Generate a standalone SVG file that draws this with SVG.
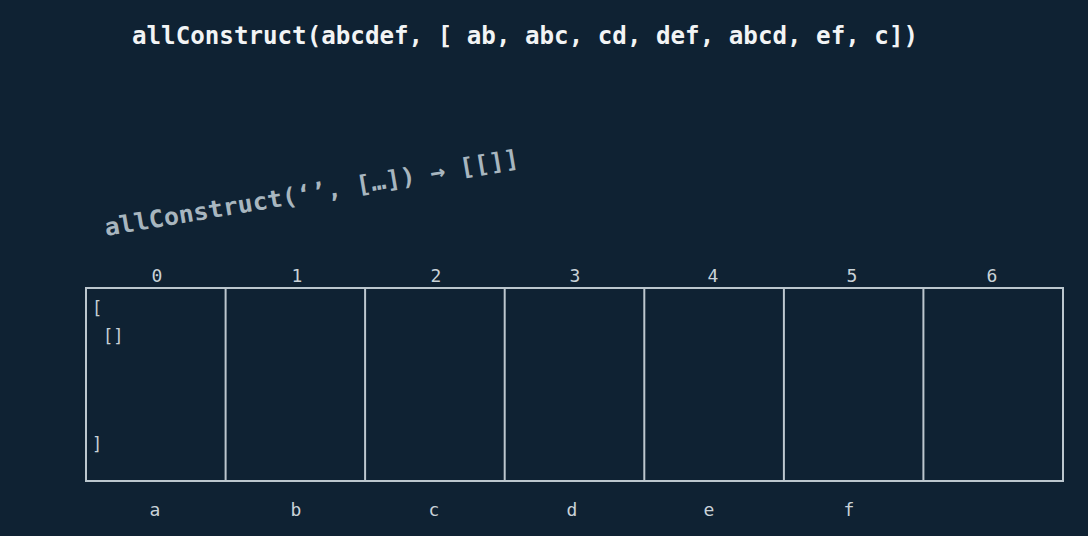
<svg xmlns="http://www.w3.org/2000/svg" width="1088" height="536" viewBox="0 0 1088 536">
<style>
.title{font-family:"DejaVu Sans Mono","Liberation Mono",monospace;font-weight:bold;font-size:24px;fill:#f2f4f5}
.call{font-family:"DejaVu Sans Mono","Liberation Mono",monospace;font-weight:bold;font-size:24px;fill:#a8b6bf}
.lbl{font-family:"DejaVu Sans Mono","Liberation Mono",monospace;font-size:18px;fill:#c9d2d8;text-anchor:middle}
.cell{font-family:"DejaVu Sans Mono","Liberation Mono",monospace;font-size:17px;fill:#c9d2d8}
.grid{fill:none;stroke:#bcc7ce;stroke-width:2}
</style>
<rect width="1088" height="536" fill="#0f2233"/>
<text class="title" x="132" y="44" textLength="786" lengthAdjust="spacingAndGlyphs">allConstruct(abcdef, [ ab, abc, cd, def, abcd, ef, c])</text>
<text class="call" x="106" y="236" transform="rotate(-9.6 106 236)" textLength="420" lengthAdjust="spacingAndGlyphs">allConstruct(‘’, […]) → [[]]</text>
<g id="table">
<rect class="grid" x="86" y="288" width="977" height="193"/>
<g id="dividers">
<line class="grid" x1="225.6" y1="288" x2="225.6" y2="481"/>
<line class="grid" x1="365.1" y1="288" x2="365.1" y2="481"/>
<line class="grid" x1="504.7" y1="288" x2="504.7" y2="481"/>
<line class="grid" x1="644.3" y1="288" x2="644.3" y2="481"/>
<line class="grid" x1="783.9" y1="288" x2="783.9" y2="481"/>
<line class="grid" x1="923.4" y1="288" x2="923.4" y2="481"/>
</g>
</g>
<g id="indices">
<text class="lbl" x="157" y="282">0</text>
<text class="lbl" x="297" y="282">1</text>
<text class="lbl" x="436" y="282">2</text>
<text class="lbl" x="575" y="282">3</text>
<text class="lbl" x="713" y="282">4</text>
<text class="lbl" x="852" y="282">5</text>
<text class="lbl" x="992" y="282">6</text>
</g>
<g id="letters">
<text class="lbl" x="155" y="516">a</text>
<text class="lbl" x="296" y="516">b</text>
<text class="lbl" x="434" y="516">c</text>
<text class="lbl" x="572" y="516">d</text>
<text class="lbl" x="709" y="516">e</text>
<text class="lbl" x="849" y="516">f</text>
</g>
<g id="cell0">
<text class="cell" x="92" y="314">[</text>
<text class="cell" x="103" y="342">[]</text>
<text class="cell" x="92" y="450">]</text>
</g>
</svg>
